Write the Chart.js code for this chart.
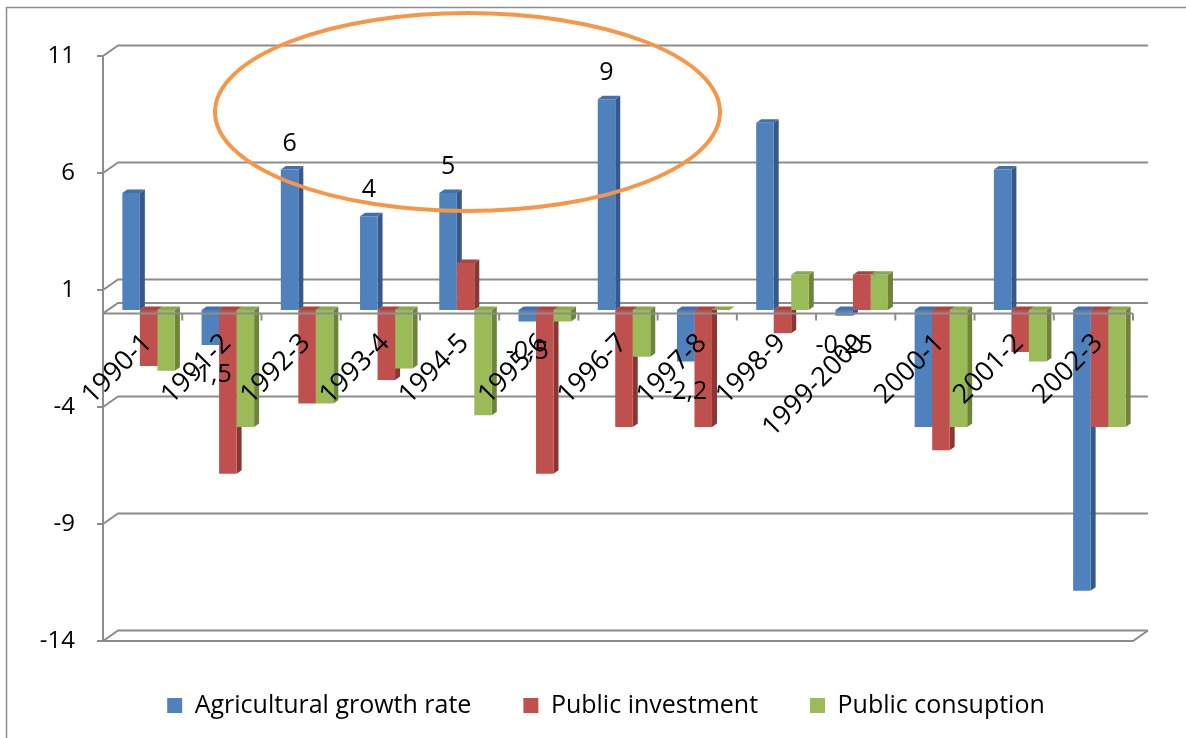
<!DOCTYPE html>
<html>
<head>
<meta charset="utf-8">
<title>Agricultural growth, public investment and public consumption</title>
<script src="https://cdn.jsdelivr.net/npm/chart.js@4.4.1/dist/chart.umd.min.js"></script>
<style>
  html, body { margin: 0; padding: 0; background: #fff; }
  canvas { display: block; }
</style>
</head>
<body>
<canvas id="growthChart" width="1186" height="738"></canvas>
<script>
const years = ["1990-1", "1991-2", "1992-3", "1993-4", "1994-5", "1995-6", "1996-7",
  "1997-8", "1998-9", "1999-2000", "2000-1", "2001-2", "2002-3"];
const agriculturalGrowth = [5, -1.5, 6, 4, 5, -0.5, 9, -2.2, 8, -0.25, -5, 6, -12];
const publicInvestment = [-2.4, -7, -4, -3, 2, -7, -5, -5, -1, 1.5, -6, -1.8, -5];
const publicConsumption = [-2.6, -5, -4, -2.5, -4.5, -0.5, -2, 0, 1.5, 1.5, -5, -2.2, -5];
// growth bars that carry a value label
const labelledGrowth = [1, 2, 3, 4, 5, 6, 7, 9];
const yMin = -14;
const yMax = 11;
const yStep = 5;

const FONT = "'Open Sans', sans-serif";
const GRID = "#8c8c8c";
const DEPTH = { x: 5, y: -3.5 };      // side/top faces of each bar
const WALL = { x: 15, y: -10.5 };     // back wall offset from the front edge
const BAR_SHIFT = { x: 6, y: -3.5 };  // bars stand between front edge and back wall
const LEGEND_CENTER = 606;

const faces = [
  { side: "#36598A", top: "#4170AA" },
  { side: "#8A3734", top: "#A94541" },
  { side: "#6C853A", top: "#8AA84E" },
];

function formatValue(v) {
  return String(v).replace(".", ",");
}

function poly(ctx, pts, color) {
  ctx.fillStyle = color;
  ctx.beginPath();
  ctx.moveTo(pts[0][0], pts[0][1]);
  for (let i = 1; i < pts.length; i++) ctx.lineTo(pts[i][0], pts[i][1]);
  ctx.closePath();
  ctx.fill();
}

const box3d = {
  id: "box3d",
  afterLayout(chart) {
    // legend sits under the plot, not under the whole canvas
    const lg = chart.legend;
    const dx = LEGEND_CENTER - (lg.left + lg.right) / 2;
    lg.left += dx;
    lg.right += dx;
  },
  beforeDraw(chart) {
    const ctx = chart.ctx;
    ctx.save();
    ctx.strokeStyle = "#8e8e8e";
    ctx.lineWidth = 1.5;
    ctx.strokeRect(6.5, 7.5, 1300, 900);
    ctx.restore();
  },
  beforeDatasetsDraw(chart) {
    const { ctx, chartArea: a, scales } = chart;
    const y = scales.y;
    const y0 = y.getPixelForValue(0);

    ctx.save();
    ctx.strokeStyle = GRID;
    ctx.lineWidth = 2;
    // back wall gridlines, tied to the axis by short slanted ticks
    y.ticks.forEach((t) => {
      const py = y.getPixelForValue(t.value);
      ctx.beginPath();
      ctx.moveTo(a.left - 6, py);
      ctx.lineTo(a.left, py);
      ctx.lineTo(a.left + WALL.x, py + WALL.y);
      ctx.lineTo(a.right + WALL.x, py + WALL.y);
      ctx.stroke();
    });
    // back edge of the floor
    ctx.beginPath();
    ctx.moveTo(a.left, y0);
    ctx.lineTo(a.left + WALL.x, y0 + WALL.y);
    ctx.lineTo(a.right + WALL.x, y0 + WALL.y);
    ctx.stroke();
    // base plate
    ctx.beginPath();
    ctx.moveTo(a.left, a.bottom);
    ctx.lineTo(a.right, a.bottom);
    ctx.lineTo(a.right + WALL.x, a.bottom + WALL.y);
    ctx.stroke();
    ctx.beginPath();
    ctx.moveTo(a.left, a.top);
    ctx.lineTo(a.left, a.bottom);
    ctx.stroke();
    ctx.restore();

    // side and top faces go under the fronts Chart.js draws next
    ctx.save();
    ctx.translate(BAR_SHIFT.x, BAR_SHIFT.y);
    chart.data.datasets.forEach((ds, i) => {
      chart.getDatasetMeta(i).data.forEach((bar) => {
        const p = bar.getProps(["x", "y", "base", "width"], true);
        const left = p.x - p.width / 2;
        const right = p.x + p.width / 2;
        const top = Math.min(p.y, p.base);
        const bottom = Math.max(p.y, p.base);
        poly(ctx, [[right, top], [right + DEPTH.x, top + DEPTH.y],
          [right + DEPTH.x, bottom + DEPTH.y], [right, bottom]], faces[i].side);
        poly(ctx, [[left, top], [left + DEPTH.x, top + DEPTH.y],
          [right + DEPTH.x, top + DEPTH.y], [right, top]], faces[i].top);
      });
    });
  },
  afterDatasetsDraw(chart) {
    const { ctx, chartArea: a, scales } = chart;

    // value labels on the growth bars
    ctx.font = "25px " + FONT;
    ctx.fillStyle = "#000";
    ctx.textAlign = "center";
    ctx.textBaseline = "middle";
    const meta = chart.getDatasetMeta(0);
    labelledGrowth.forEach((idx) => {
      const v = agriculturalGrowth[idx];
      const bar = meta.data[idx];
      ctx.fillText(formatValue(v), bar.x, v >= 0 ? bar.y - 26 : bar.y + 30);
    });
    ctx.restore();

    // front edge of the floor with category ticks, over the bars
    const y0 = scales.y.getPixelForValue(0);
    const step = (a.right - a.left) / years.length;
    ctx.save();
    ctx.strokeStyle = GRID;
    ctx.lineWidth = 2;
    ctx.beginPath();
    ctx.moveTo(a.left, y0);
    ctx.lineTo(a.right, y0);
    for (let k = 1; k <= years.length; k++) {
      ctx.moveTo(a.left + k * step, y0);
      ctx.lineTo(a.left + k * step, y0 + 7);
    }
    ctx.stroke();
    ctx.restore();
  },
  afterDraw(chart) {
    // highlight ring over the mid-90s growth peaks
    const ctx = chart.ctx;
    ctx.save();
    ctx.strokeStyle = "#F79646";
    ctx.lineWidth = 4;
    ctx.beginPath();
    ctx.ellipse(467.5, 112, 252.5, 99, 0, 0, Math.PI * 2);
    ctx.stroke();
    ctx.restore();
  },
};

const data = {
  labels: years,
  datasets: [
    { label: "Agricultural growth rate", data: agriculturalGrowth, backgroundColor: "#4F81BD" },
    { label: "Public investment", data: publicInvestment, backgroundColor: "#C0504D" },
    { label: "Public consuption", data: publicConsumption, backgroundColor: "#9BBB59" },
  ],
};

const config = {
  type: "bar",
  data: data,
  options: {
    responsive: false,
    animation: false,
    datasets: {
      bar: { categoryPercentage: 0.663, barPercentage: 1, borderWidth: 0 },
    },
    layout: { padding: { left: 30, right: 53, top: 56, bottom: 10 } },
    scales: {
      x: {
        position: { y: 0 },
        grid: { display: false, drawTicks: false },
        border: { display: false },
        ticks: {
          font: { family: FONT, size: 27 },
          color: "#000",
          minRotation: 45,
          maxRotation: 45,
          autoSkip: false,
          padding: 14,
          labelOffset: 5,
          z: 1,
        },
      },
      y: {
        min: yMin,
        max: yMax,
        grid: { display: false, drawTicks: false },
        border: { display: false },
        ticks: {
          stepSize: yStep,
          font: { family: FONT, size: 24 },
          color: "#000",
          padding: 28,
        },
        afterFit(scale) {
          scale.width = 73;
        },
      },
    },
    plugins: {
      legend: {
        position: "bottom",
        labels: {
          boxWidth: 15,
          boxHeight: 15,
          padding: 52,
          color: "#000",
          font: { family: FONT, size: 25 },
        },
      },
      tooltip: { enabled: false },
    },
  },
  plugins: [box3d],
};

new Chart(document.getElementById("growthChart"), config);
</script>
</body>
</html>
